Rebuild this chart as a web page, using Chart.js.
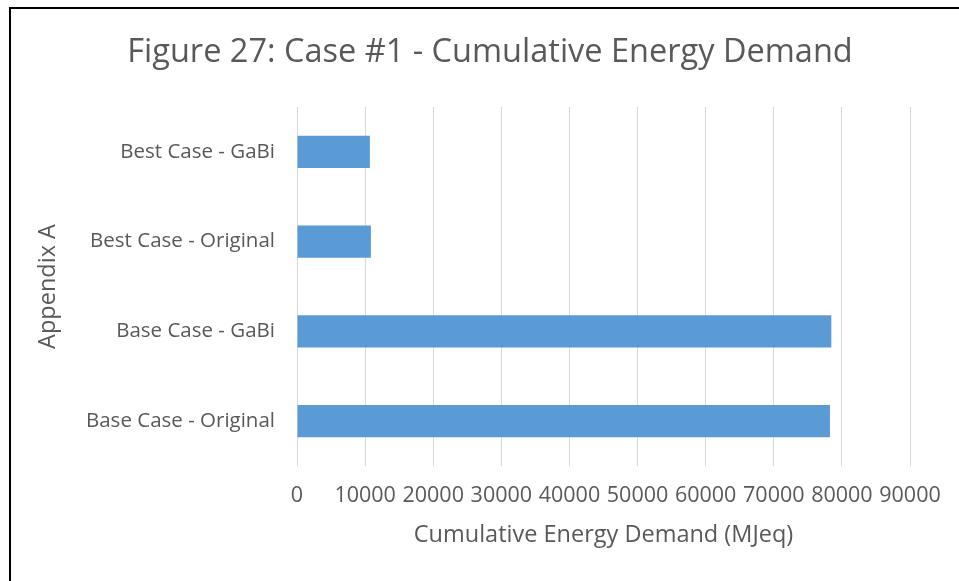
<!DOCTYPE html>
<html>
<head>
<meta charset="utf-8">
<script src="https://cdn.jsdelivr.net/npm/chart.js@4/dist/chart.umd.min.js"></script>
<style>
  html, body { margin: 0; padding: 0; background: #fff; }
  #wrap { width: 959px; height: 581px; position: relative; }
</style>
</head>
<body>
<div id="wrap"><canvas id="cedChart"></canvas></div>
<script>
// chart data
const categories = ['Best Case - GaBi', 'Best Case - Original', 'Base Case - GaBi', 'Base Case - Original'];
const cedValues = [10700, 10850, 78450, 78250];
const xTickValues = [0, 10000, 20000, 30000, 40000, 50000, 60000, 70000, 80000, 90000];

const chartTitle = 'Figure 27: Case #1 - Cumulative Energy Demand';
const xTitle = 'Cumulative Energy Demand (MJeq)';
const yTitle = 'Appendix A';

const textColor = '#595959';
const fontFamily = '"Open Sans", "Liberation Sans", sans-serif';

// frame + title, drawn like the Excel chart box
const framePlugin = {
  id: 'frame',
  afterDraw(chart) {
    const { ctx } = chart;
    ctx.save();
    ctx.strokeStyle = '#000';
    ctx.lineWidth = 2;
    ctx.strokeRect(10, 8, 1200, 1200);
    ctx.fillStyle = textColor;
    ctx.font = `32.5px ${fontFamily}`;
    ctx.textAlign = 'center';
    ctx.textBaseline = 'middle';
    ctx.fillText(chartTitle, 490, 53);
    ctx.restore();
  }
};

const ctx = document.getElementById('cedChart').getContext('2d');
new Chart(ctx, {
  type: 'bar',
  data: {
    labels: categories,
    datasets: [{
      label: 'CED',
      data: cedValues,
      backgroundColor: '#5b9bd5',
      borderWidth: 0,
      barPercentage: 0.357,
      categoryPercentage: 1
    }]
  },
  options: {
    indexAxis: 'y',
    responsive: true,
    maintainAspectRatio: false,
    animation: false,
    layout: { padding: { left: 10, top: 107, right: 49, bottom: 15 } },
    plugins: {
      legend: { display: false },
      tooltip: { enabled: false }
    },
    scales: {
      x: {
        min: 0,
        max: 90000,
        afterBuildTicks: scale => { scale.ticks = xTickValues.map(v => ({ value: v })); },
        afterFit: scale => { scale.height = 100; },
        ticks: {
          color: textColor,
          font: { family: fontFamily, size: 21.5 },
          padding: 17,
          maxRotation: 0,
          autoSkip: false,
          callback: v => String(v)
        },
        grid: { color: '#d9d9d9', lineWidth: 1, drawTicks: false },
        border: { display: false },
        title: {
          display: true,
          text: xTitle,
          color: textColor,
          font: { family: fontFamily, size: 23.5 },
          padding: { top: 0, bottom: 17 }
        }
      },
      y: {
        afterFit: scale => { scale.width = 287; },
        ticks: {
          color: textColor,
          font: { family: fontFamily, size: 20.5 },
          padding: 22
        },
        grid: { display: false, drawTicks: false },
        border: { display: false },
        title: {
          display: true,
          text: yTitle,
          color: textColor,
          font: { family: fontFamily, size: 23.5 },
          padding: { top: 24, bottom: 0 }
        }
      }
    }
  },
  plugins: [framePlugin]
});
</script>
</body>
</html>
